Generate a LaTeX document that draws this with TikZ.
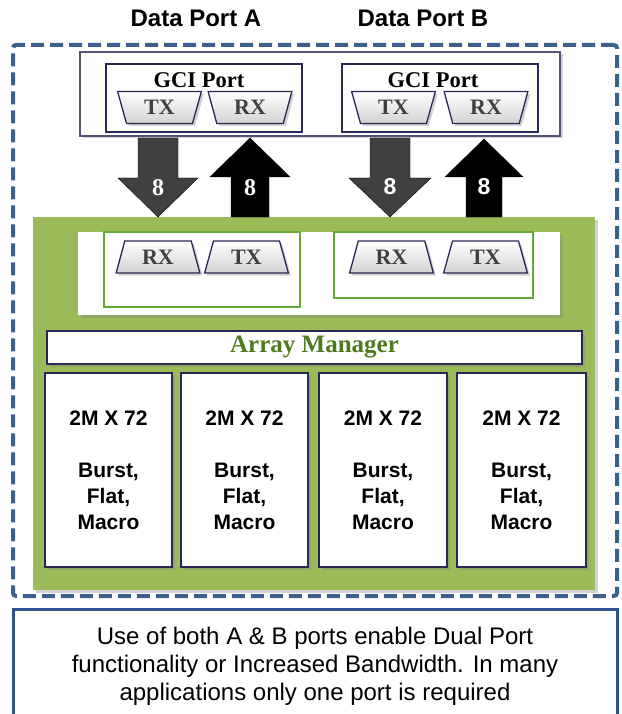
\documentclass[tikz,border=0pt]{standalone}
\usepackage{fontspec}
\setmainfont{Liberation Sans}
\newfontfamily\serifface{Liberation Serif}
\usetikzlibrary{shapes.geometric,shadows}

\definecolor{dashblue}{RGB}{59,96,140}
\definecolor{navy}{RGB}{40,40,85}
\definecolor{panelgreen}{RGB}{155,187,89}
\definecolor{edgegreen}{RGB}{100,168,55}
\definecolor{mgrgreen}{RGB}{79,122,31}
\definecolor{busgrey}{RGB}{64,64,64}
\definecolor{noteblue}{RGB}{47,82,143}

\begin{document}
\begin{tikzpicture}[x=1pt, y=-1pt,
  every node/.style={inner sep=0pt},
  soft/.style={drop shadow={shadow xshift=2.5pt, shadow yshift=-2.5pt, opacity=0.35}},
  box/.style={draw=navy, line width=1.5pt, fill=white},
  port/.style={trapezium, trapezium stretches=true, trapezium angle=74, draw=navy,
    line width=1.3pt, top color=white, bottom color=gray!35, minimum width=84pt,
    minimum height=32pt, text=black!75, font=\serifface\bfseries\fontsize{22}{22}\selectfont, soft},
  width/.style={font=\bfseries\fontsize{23}{23}\selectfont, text=white}
]
\useasboundingbox (0,0) rectangle (621,714);

% headings
\node[font=\bfseries\fontsize{24}{28}\selectfont] (dpa) at (196,18) {Data Port A};
\node[font=\bfseries\fontsize{24}{28}\selectfont] (dpb) at (423,18) {Data Port B};

% chip outline
\node[draw=dashblue, line width=4pt, dash pattern=on 13pt off 6pt, rounded corners=3pt,
  minimum width=604pt, minimum height=551pt] (chip) at (315,320.5) {};

% data ports
\node[box, draw=navy!80, line width=1.3pt, soft, minimum width=480pt, minimum height=84pt] (ports) at (320,94) {};
\node[box, line width=2.5pt, minimum width=196pt, minimum height=68pt] (gcia) at (204,98) {};
\node[box, line width=2.5pt, minimum width=196pt, minimum height=68pt] (gcib) at (440,98) {};
\node[font=\serifface\bfseries\fontsize{22.5}{22.5}\selectfont] (gcilaba) at (199,80) {GCI Port};
\node[font=\serifface\bfseries\fontsize{22.5}{22.5}\selectfont] (gcilabb) at (433,80) {GCI Port};

\node[port, shape border rotate=180] (txa) at (159.5,107.5) {TX};
\node[port, shape border rotate=180] (rxa) at (250,107.5) {RX};
\node[port, shape border rotate=180] (txb) at (393.5,107.5) {TX};
\node[port, shape border rotate=180] (rxb) at (486,107.5) {RX};

% array block
\node[fill=panelgreen, soft, minimum width=562pt, minimum height=373pt] (array) at (314,403.5) {};
\node[fill=white, soft, minimum width=482pt, minimum height=83pt] (band) at (319,273.5) {};
\node[draw=edgegreen, line width=2pt, minimum width=196pt, minimum height=75pt] (ifa) at (202,269.5) {};
\node[draw=edgegreen, line width=2pt, minimum width=199pt, minimum height=66pt] (ifb) at (433.5,265) {};

\node[port] (arxa) at (158,257) {RX};
\node[port] (atxa) at (246.5,257) {TX};
\node[port] (arxb) at (391.5,257) {RX};
\node[port] (atxb) at (485.5,257) {TX};

\node[box, soft, minimum width=535pt, minimum height=33pt, text=mgrgreen,
  font=\serifface\bfseries\fontsize{25}{25}\selectfont] (mgr) at (314.5,347.5) {Array Manager};

\foreach \x/\w [count=\i] in {108.5/127, 244.5/127, 383/128, 521.5/129}
  \node[box, soft, minimum width=\w, minimum height=194pt, align=center,
    font=\bfseries\fontsize{21}{26}\selectfont] (mem\i) at (\x,470) {2M X 72\\[26pt]Burst,\\Flat,\\Macro};

% 8 bit buses
\filldraw[fill=busgrey, draw=black] (138,138) -- (178,138) -- (178,178) -- (198,178) -- (158,217) -- (118,178) -- (138,178) -- cycle;
\filldraw[fill=black, draw=black] (231,217) -- (269,217) -- (269,177) -- (290,177) -- (250,138) -- (210,177) -- (231,177) -- cycle;
\filldraw[fill=busgrey, draw=black] (370,138) -- (410,138) -- (410,178) -- (431,178) -- (390,217) -- (349,178) -- (370,178) -- cycle;
\filldraw[fill=black, draw=black] (466,217) -- (502,217) -- (502,177) -- (523,177) -- (484,139) -- (445,177) -- (466,177) -- cycle;
\node[width, font=\serifface\bfseries\fontsize{24}{24}\selectfont] (wa1) at (158,188) {8};
\node[width, font=\serifface\bfseries\fontsize{24}{24}\selectfont] (wa2) at (250,188) {8};
\node[width] (wb1) at (390,187) {8};
\node[width] (wb2) at (484,187) {8};

% note
\node[draw=noteblue, line width=3pt, fill=white, minimum width=604pt, minimum height=120pt, anchor=north] (note) at (315,608) {};
\node[align=center, font=\fontsize{24}{28}\selectfont] (notetext) at (315,666)
  {Use of both A \& B ports enable Dual Port\\functionality or Increased Bandwidth. In many\\applications only one port is required};

\end{tikzpicture}
\end{document}
